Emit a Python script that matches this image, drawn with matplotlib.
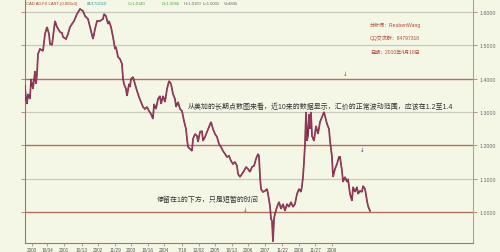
import matplotlib
matplotlib.use('Agg')
import matplotlib.pyplot as plt

plt.rcParams['font.family'] = ['Liberation Sans', 'Noto Sans CJK SC', 'DejaVu Sans']

# position along the time axis (bar index) and CAD close
bar_pos = [0, 1, 2, 3, 5, 6, 8, 10, 11, 12, 13, 15, 18, 20, 22, 24, 25, 27, 28, 30,
           32, 35, 37, 38, 41, 43, 45, 47, 49, 52, 55, 58, 60, 63, 65, 68, 70, 72, 75, 78,
           79, 81, 83, 84, 86, 88, 90, 91, 93, 95, 97, 98, 99, 101, 102, 104, 105, 106, 108, 110,
           112, 114, 116, 118, 120, 122, 124, 126, 128, 129, 131, 133, 135, 136, 138, 140, 142, 144, 146, 148,
           150, 151, 153, 155, 157, 159, 161, 162, 163, 165, 167, 168, 170, 172, 173, 175, 177, 178, 180, 182,
           184, 186, 188, 190, 192, 194, 196, 198, 200, 202, 204, 206, 208, 210, 212, 213, 215, 217, 219, 221,
           223, 225, 227, 229, 231, 233, 234, 235, 236, 238, 240, 242, 243, 245, 246, 247, 248, 249, 250, 252,
           254, 256, 258, 260, 262, 264, 266, 268, 270, 272, 274, 276, 277, 278, 279, 280, 281, 282, 283, 284,
           285, 286, 287, 289, 291, 293, 295, 297, 299, 300, 302, 304, 305, 307, 308, 310, 312, 314, 315, 317,
           318, 320, 322, 323, 325, 327, 328, 330, 332, 333, 335, 337, 338, 340, 342, 343, 345]
price = [1.378, 1.339, 1.324, 1.354, 1.339, 1.399, 1.369, 1.423, 1.384, 1.414, 1.474, 1.489, 1.483, 1.534, 1.555, 1.534, 1.504, 1.501, 1.525, 1.573,
         1.555, 1.540, 1.537, 1.525, 1.519, 1.534, 1.555, 1.564, 1.573, 1.594, 1.609, 1.603, 1.588, 1.579, 1.555, 1.519, 1.549, 1.573, 1.573, 1.579,
         1.594, 1.588, 1.564, 1.573, 1.555, 1.525, 1.489, 1.495, 1.465, 1.459, 1.444, 1.399, 1.384, 1.369, 1.348, 1.384, 1.375, 1.399, 1.405, 1.384,
         1.363, 1.345, 1.330, 1.315, 1.309, 1.315, 1.303, 1.294, 1.279, 1.324, 1.309, 1.339, 1.348, 1.324, 1.348, 1.330, 1.369, 1.393, 1.384, 1.354,
         1.339, 1.315, 1.330, 1.309, 1.303, 1.273, 1.249, 1.219, 1.195, 1.189, 1.183, 1.219, 1.234, 1.228, 1.210, 1.240, 1.243, 1.213, 1.225, 1.240,
         1.255, 1.270, 1.249, 1.234, 1.225, 1.204, 1.195, 1.183, 1.174, 1.165, 1.168, 1.153, 1.144, 1.150, 1.138, 1.114, 1.105, 1.114, 1.123, 1.135,
         1.129, 1.120, 1.135, 1.138, 1.159, 1.174, 1.168, 1.105, 1.069, 1.060, 1.063, 1.069, 1.054, 1.018, 0.979, 0.973, 0.910, 0.979, 0.994, 1.015,
         1.030, 1.009, 1.024, 1.003, 1.024, 1.015, 1.030, 1.015, 1.024, 1.054, 1.069, 1.060, 1.078, 1.105, 1.150, 1.204, 1.300, 1.213, 1.228, 1.294,
         1.249, 1.300, 1.228, 1.213, 1.258, 1.234, 1.270, 1.285, 1.300, 1.288, 1.264, 1.249, 1.213, 1.165, 1.105, 1.129, 1.144, 1.165, 1.165, 1.123,
         1.090, 1.105, 1.090, 1.099, 1.054, 1.033, 1.075, 1.060, 1.075, 1.054, 1.063, 1.060, 1.078, 1.069, 1.033, 1.018, 1.003]

tick_pos = [7, 22, 39, 57, 73, 90, 106, 123, 139, 157, 174, 190, 207, 223, 240, 257, 274, 290, 307]
tick_labels = ['2000', '10/04', '2001', '10/13', '2002', '11/29', '2003', '10/16', '2004', '7/16',
               '12/02', '2005', '10/13', '2006', '2007', '11/22', '2008', '11/27', '2009']

grey_levels = [1.1, 1.3, 1.5, 1.6]
red_levels = [1.0, 1.2, 1.4]

bg = '#f5f7e6'
brown = '#b4705e'

fig = plt.figure(figsize=(5, 2.53), dpi=100, facecolor=bg)
ax = fig.add_axes([0.05, 0.036, 0.896, 0.964])
ax.set_facecolor(bg)
ax.set_xlim(0, 448)
ax.set_ylim(0.907, 1.639)

for lv in grey_levels:
    ax.axhline(lv, color='#c9cabd', lw=0.9, zorder=1)
for lv in red_levels:
    ax.axhline(lv, color=brown, lw=1.0, zorder=1)

ax.plot(bar_pos, price, color='#741a3c', lw=1.2, zorder=3, solid_joinstyle='miter')
ax.plot(bar_pos, price, color='#d08aa4', lw=0.3, alpha=0.7, zorder=4)

# axes styling
ax.spines['top'].set_visible(False)
ax.spines['left'].set_color(brown)
ax.spines['bottom'].set_color(brown)
ax.spines['right'].set_color('#c79a88')
ax.yaxis.tick_right()
ax.set_yticks([1.0, 1.1, 1.2, 1.3, 1.4, 1.5, 1.6])
ax.set_yticklabels(['%.4f' % v for v in [1.0, 1.1, 1.2, 1.3, 1.4, 1.5, 1.6]])
ax.tick_params(axis='y', which='both', right=True, left=True, length=3, width=0.6,
               color='#a08070', labelsize=3.8, labelcolor='#666666', pad=1.5)
ax.set_xticks(tick_pos)
ax.set_xticklabels(tick_labels)
ax.tick_params(axis='x', length=2, width=0.5, color='#a08070', labelsize=3.4,
               labelcolor='#555555', pad=1)

# header line
header = [(0.002, 'CAD A0-FX LAST-(0.003x3)', '#a83a2a'), (0.138, '04/17/2010', '#2a8fa0'),
          (0.230, 'C=1.0140', '#3aa83a'), (0.306, 'O=1.0046', '#3aa83a'),
          (0.353, 'H=1.0160', '#666666'), (0.397, 'L=1.0002', '#666666'),
          (0.444, 'V=4845', '#666666')]
for xx, t, c in header:
    ax.text(xx, 0.982, t, transform=ax.transAxes, fontsize=3.0, color=c, va='center', ha='left')

# author info
ax.text(345, 1.564, '分析师：ReubenWang', fontsize=3.6, color='#b04a3a', va='center')
ax.text(345, 1.525, 'QQ交流群：84797318', fontsize=3.6, color='#b04a3a', va='center')
ax.text(345, 1.483, '日期：2010年4月18日', fontsize=3.6, color='#b04a3a', va='center')

# comments
ax.text(163, 1.318, '从美加的长期点数图来看，近10来的数据显示，汇价的正常波动范围，应该在1.2至1.4',
        fontsize=5, color='#333333', va='center', ha='left')
ax.text(132, 1.039, '停留在1的下方，只是短暂的时间', fontsize=5, color='#333333', va='center', ha='left')

# small arrow marks
ax.text(320, 1.414, '↓', fontsize=4, color='#b03030', ha='center', va='center', family='DejaVu Sans')
ax.text(337, 1.186, '↓', fontsize=4, color='#2040a0', ha='center', va='center', family='DejaVu Sans')
ax.text(220, 1.008, '↓', fontsize=4, color='#b03030', ha='center', va='center', family='DejaVu Sans')

fig.savefig('out.png', dpi=100, facecolor=bg)
